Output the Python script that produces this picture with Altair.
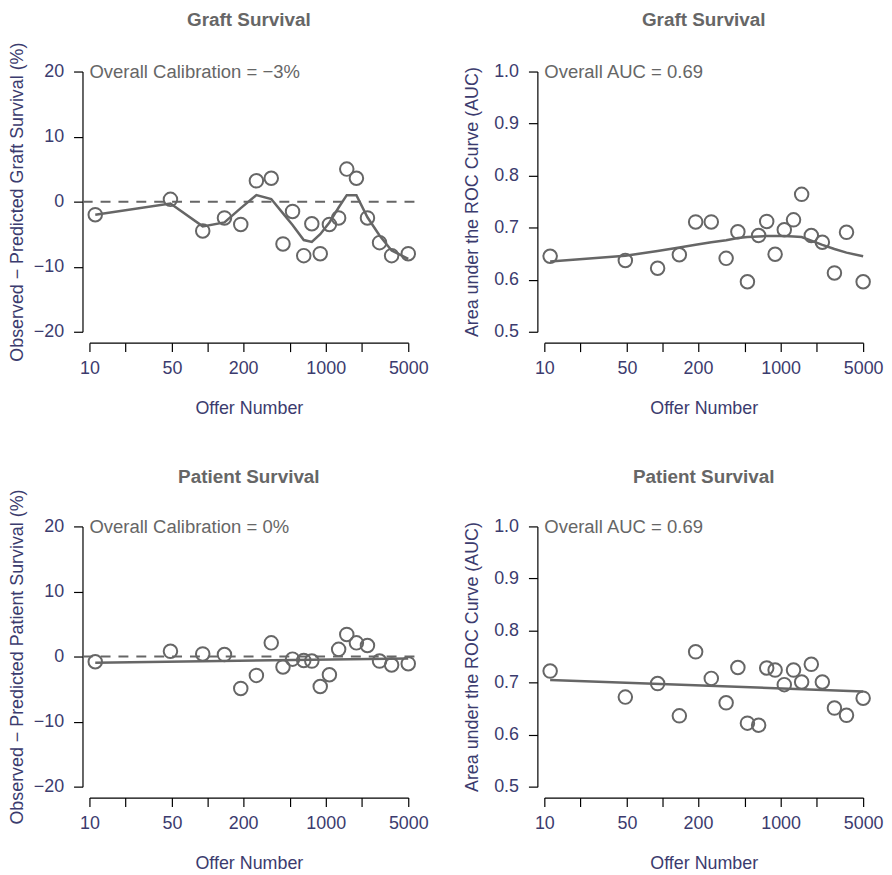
import altair as alt
import pandas as pd

# Offer-number bins (x positions, shared by all panels)
offers = [11.2, 48.5, 91, 139, 191, 259, 346, 435, 524, 652, 763, 899,
          1075, 1287, 1508, 1820, 2257, 2857, 3615, 5000]

# Graft survival: observed - predicted (%) and smoothed curve
graft_cal = [-2.0, 0.35, -4.5, -2.5, -3.5, 3.2, 3.6, -6.5, -1.5, -8.3, -3.4, -8.0,
             -3.5, -2.5, 5.0, 3.6, -2.5, -6.3, -8.3, -8.0]
graft_cal_smooth = [-2.0, -0.3, -3.8, -3.2, -1.0, 1.0, 0.4, -1.8, -3.6, -5.9, -6.2, -5.0,
                    -3.2, -0.9, 1.0, 1.0, -2.4, -5.2, -7.5, -8.8]

# Graft survival AUC and smoothed curve
graft_auc = [0.645, 0.637, 0.622, 0.648, 0.711, 0.711, 0.641, 0.692, 0.596, 0.685, 0.712, 0.649,
             0.696, 0.715, 0.764, 0.685, 0.672, 0.613, 0.691, 0.596]
graft_auc_smooth = [0.635, 0.646, 0.655, 0.662, 0.667, 0.672, 0.676, 0.680, 0.682, 0.683, 0.684, 0.684,
                    0.684, 0.683, 0.682, 0.675, 0.667, 0.659, 0.652, 0.645]

# Patient survival: observed - predicted (%) and fitted line (end points)
patient_cal = [-0.8, 0.8, 0.4, 0.3, -4.9, -2.9, 2.1, -1.6, -0.4, -0.6, -0.7, -4.6,
               -2.8, 1.1, 3.4, 2.1, 1.7, -0.7, -1.3, -1.1]
patient_cal_fit_x = [11.2, 5000]
patient_cal_fit_y = [-0.95, -0.3]

# Patient survival AUC and fitted line (end points)
patient_auc = [0.722, 0.672, 0.698, 0.636, 0.759, 0.708, 0.661, 0.729, 0.622, 0.618, 0.728, 0.724,
               0.696, 0.724, 0.701, 0.735, 0.701, 0.651, 0.637, 0.670]
patient_auc_fit_x = [11.2, 5000]
patient_auc_fit_y = [0.705, 0.683]

x_ticks = [10, 20, 50, 100, 200, 500, 1000, 2000, 5000]
x_labeled = [10, 50, 200, 1000, 5000]
cal_ticks = [-20, -10, 0, 10, 20]
auc_ticks = [0.5, 0.6, 0.7, 0.8, 0.9, 1.0]
ref_line_x = [8.77, 6380]

titles = ["Graft Survival", "Graft Survival", "Patient Survival", "Patient Survival"]
ytitles = ["Observed − Predicted Graft Survival (%)", "Area under the ROC Curve (AUC)",
           "Observed − Predicted Patient Survival (%)", "Area under the ROC Curve (AUC)"]
notes = ["Overall Calibration = −3%", "Overall AUC = 0.69",
         "Overall Calibration = 0%", "Overall AUC = 0.69"]

GRAY = "#666666"
NAVY = "#3b3b6e"
FONT = "Liberation Sans"
W, H = 321, 262

label_expr = "indexof([" + ",".join(str(v) for v in x_labeled) + "], datum.value) >= 0 ? format(datum.value, 'd') : ''"


def panel(title, ytitle, note, yvals, lx, ly, ydomain, yticks, yfmt, calib, title_pad, t_off):
    xs = alt.Scale(type="log", domain=[10, 5000], nice=False, zero=False)
    ys = alt.Scale(domain=ydomain, nice=False, zero=False)
    xaxis = alt.Axis(values=x_ticks, labelExpr=label_expr, title="Offer Number",
                     offset=11, tickSize=9, labelPadding=8, titlePadding=22, grid=False,
                     labelFlush=False, labelOverlap=False)
    yaxis = alt.Axis(values=yticks, format=yfmt, title=ytitle, offset=7, tickSize=9,
                     labelPadding=10, titlePadding=title_pad, grid=False, labelFlush=False)
    pts = pd.DataFrame({"x": offers, "y": yvals})
    lin = pd.DataFrame({"x": lx, "y": ly})
    points = alt.Chart(pts).mark_point(shape="circle", filled=False, size=185,
                                       strokeWidth=2, color=GRAY, opacity=1).encode(
        x=alt.X("x:Q", scale=xs, axis=xaxis),
        y=alt.Y("y:Q", scale=ys, axis=yaxis))
    line = alt.Chart(lin).mark_line(color=GRAY, strokeWidth=2.5).encode(
        x=alt.X("x:Q", scale=xs), y=alt.Y("y:Q", scale=ys))
    txt = alt.Chart(pd.DataFrame({"x": [10], "y": [ydomain[1]], "t": [note]})).mark_text(
        align="left", baseline="middle", fontSize=18.6, font=FONT, color=GRAY, dy=1).encode(
        x=alt.X("x:Q", scale=xs), y=alt.Y("y:Q", scale=ys), text="t:N")
    layers = []
    if calib:
        ref = alt.Chart(pd.DataFrame({"x": [ref_line_x[0]], "x2": [ref_line_x[1]], "y": [0]})).mark_rule(
            color=GRAY, strokeWidth=2, strokeDash=[10, 8]).encode(
            x=alt.X("x:Q", scale=xs), x2="x2:Q", y=alt.Y("y:Q", scale=ys))
        layers.append(ref)
    layers += [line, points, txt]
    return alt.layer(*layers).properties(
        width=W, height=H,
        title=alt.TitleParams(text=title, fontSize=19, fontWeight="bold", color=GRAY, font=FONT,
                              frame="group", anchor="middle", baseline="alphabetic", offset=t_off))


p1 = panel(titles[0], ytitles[0], notes[0], graft_cal, offers, graft_cal_smooth,
           [-20, 20], cal_ticks, "d", True, 7, -3)
p2 = panel(titles[1], ytitles[1], notes[1], graft_auc, offers, graft_auc_smooth,
           [0.5, 1.0], auc_ticks, ".1f", False, 12, 18)
p3 = panel(titles[2], ytitles[2], notes[2], patient_cal, patient_cal_fit_x, patient_cal_fit_y,
           [-20, 20], cal_ticks, "d", True, 7, -13)
p4 = panel(titles[3], ytitles[3], notes[3], patient_auc, patient_auc_fit_x, patient_auc_fit_y,
           [0.5, 1.0], auc_ticks, ".1f", False, 12, 16)

chart = alt.ConcatChart(concat=[p1, p2, p3, p4], columns=2,
                        spacing={"row": 196, "column": 137}, bounds="flush").properties(
    padding=0, background="white"
).configure_view(stroke=None).configure_axis(
    domainColor="black", tickColor="black", domainWidth=1.2, tickWidth=1.2,
    labelColor=NAVY, titleColor=NAVY, labelFont=FONT, titleFont=FONT,
    labelFontSize=18, titleFontSize=18, titleFontWeight="normal"
)

chart.save("out.html", embed_options={"renderer": "svg", "actions": False})
